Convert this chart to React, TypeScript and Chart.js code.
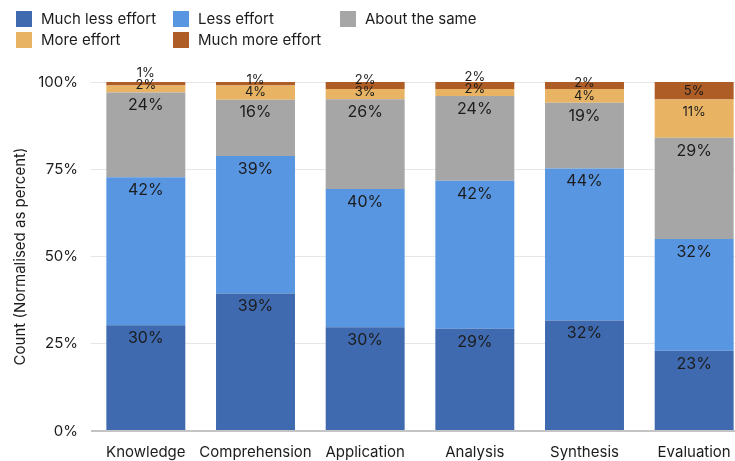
import React, { useEffect, useRef } from "react";
import { Chart, registerables } from "chart.js";

Chart.register(...registerables);

const categories = ["Knowledge", "Comprehension", "Application", "Analysis", "Synthesis", "Evaluation"];
const seriesNames = ["Much less effort", "Less effort", "About the same", "More effort", "Much more effort"];
const muchLess = [30, 39, 30, 29, 32, 23];
const less = [42, 39, 40, 42, 44, 32];
const same = [24, 16, 26, 24, 19, 29];
const more = [2, 4, 3, 2, 4, 11];
const muchMore = [1, 1, 2, 2, 2, 5];
const yTicks = [0, 25, 50, 75, 100];

const colors = ["#3F6AB0", "#5896E2", "#A6A6A6", "#E8B464", "#AE5D26"];
const FONT = "Inter, 'Noto Sans', sans-serif";
const TEXT = "#1c1c1c";

const raw = [muchLess, less, same, more, muchMore];
const totals = categories.map((_, i) => raw.reduce((s, arr) => s + arr[i], 0));
const normalised = raw.map((arr) => arr.map((v, i) => (v / totals[i]) * 100));

const labelPlugin = {
  id: "segLabels",
  afterDatasetsDraw(chart: any) {
    const ctx = chart.ctx;
    ctx.save();
    ctx.textAlign = "center";
    ctx.textBaseline = "middle";
    ctx.fillStyle = TEXT;
    categories.forEach((_, i) => {
      let prevY: number | null = null;
      let prevBig = false;
      raw.forEach((arr, j) => {
        const el = chart.getDatasetMeta(j).data[i];
        const top = el.y;
        const base = el.base;
        const val = arr[i];
        const big = val >= 15;
        let y = Math.min(top + 13, (top + base) / 2);
        if (prevY !== null) {
          const gap = prevBig && !big ? 20 : !prevBig && !big ? 12.5 : 20;
          if (y > prevY - gap) y = prevY - gap;
        }
        ctx.font = `${big ? 16 : 13}px ${FONT}`;
        ctx.fillText(`${val}%`, el.x, y);
        prevY = y;
        prevBig = big;
      });
    });
    ctx.restore();
  },
};

export default function App() {
  const ref = useRef<HTMLCanvasElement>(null);
  useEffect(() => {
    document.body.style.margin = "0";
    const chart = new Chart(ref.current!, {
      type: "bar",
      data: {
        labels: categories,
        datasets: normalised.map((d, j) => ({
          label: seriesNames[j],
          data: d,
          backgroundColor: colors[j],
          borderWidth: 0,
        })),
      },
      options: {
        animation: false,
        responsive: false,
        devicePixelRatio: window.devicePixelRatio || 1,
        layout: { padding: { top: 82, left: 0, right: 0, bottom: 0 } },
        plugins: { legend: { display: false }, tooltip: { enabled: false } },
        scales: {
          x: {
            stacked: true,
            afterFit: (s: any) => {
              s.height = 30;
            },
            grid: { display: false, drawTicks: false },
            border: { display: false },
            ticks: {
              padding: 12,
              color: TEXT,
              maxRotation: 0,
              minRotation: 0,
              autoSkip: false,
              font: { family: FONT, size: 15 },
            },
          },
          y: {
            stacked: true,
            min: 0,
            max: 100,
            afterBuildTicks: (s: any) => {
              s.ticks = yTicks.map((v) => ({ value: v }));
            },
            afterFit: (s: any) => {
              s.width = 91;
            },
            grid: {
              drawTicks: false,
              color: (c: any) => (c.tick && c.tick.value === 0 ? "#c4c4c4" : "#e6e6e6"),
              lineWidth: (c: any) => (c.tick && c.tick.value === 0 ? 2 : 1),
            },
            border: { display: false },
            ticks: {
              padding: 13,
              color: TEXT,
              font: { family: FONT, size: 15 },
              callback: (v: any) => `${v}%`,
            },
            title: {
              display: true,
              text: "Count (Normalised as percent)",
              color: TEXT,
              font: { family: FONT, size: 15 },
              padding: { top: 11, bottom: 0 },
            },
          },
        },
      },
      plugins: [labelPlugin],
    });
    return () => chart.destroy();
  }, []);

  const legendCols = [16, 173, 340];
  const legendRows = [11, 32];

  return (
    <div
      style={{
        position: "absolute",
        left: 0,
        top: 0,
        width: 735,
        height: 461,
        overflow: "hidden",
        background: "#fff",
        fontFamily: FONT,
      }}
    >
      <canvas ref={ref} width={749} height={461} style={{ position: "absolute", left: 0, top: 0, width: 749, height: 461 }} />
      {seriesNames.map((name, k) => {
        const col = k < 3 ? k : k - 3;
        const row = k < 3 ? 0 : 1;
        return (
          <div
            key={name}
            style={{
              position: "absolute",
              left: legendCols[col],
              top: legendRows[row],
              height: 16,
              display: "flex",
              alignItems: "center",
              whiteSpace: "nowrap",
            }}
          >
            <span style={{ display: "inline-block", width: 16, height: 16, background: colors[k], marginRight: 9 }} />
            <span style={{ fontSize: 15, color: TEXT, lineHeight: "16px" }}>{name}</span>
          </div>
        );
      })}
    </div>
  );
}
